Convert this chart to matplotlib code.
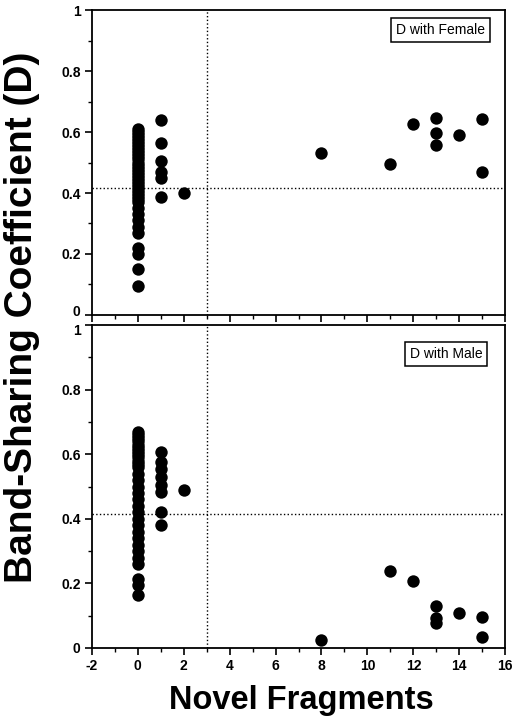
import matplotlib
matplotlib.use("Agg")
import matplotlib.pyplot as plt
from matplotlib.ticker import MultipleLocator
from matplotlib.transforms import ScaledTranslation

plt.rcParams['font.family'] = ['Liberation Sans', 'DejaVu Sans']
plt.rcParams['axes.unicode_minus'] = False

# Top panel: D with Female
fem_x = [0]*32 + [1, 1, 1, 1, 1, 1, 2, 8, 11, 12, 13, 13, 13, 14, 15, 15]
fem_y = [0.61, 0.60, 0.59, 0.58, 0.57, 0.56, 0.55, 0.54, 0.53, 0.52, 0.51, 0.50,
         0.49, 0.48, 0.47, 0.46, 0.45, 0.44, 0.43, 0.42, 0.41, 0.40, 0.39, 0.38,
         0.37, 0.35, 0.33, 0.31, 0.29, 0.27, 0.22, 0.20] + \
        [0.64, 0.565, 0.505, 0.47, 0.45, 0.387, 0.40, 0.532, 0.495, 0.625,
         0.645, 0.596, 0.557, 0.591, 0.643, 0.47]
fem_extra_x = [0, 0]
fem_extra_y = [0.15, 0.095]

# Bottom panel: D with Male
male_x = [0]*30 + [1, 1, 1, 1, 1, 1, 1, 1, 2, 8, 11, 12, 13, 13, 13, 14, 15, 15]
male_y = [0.67, 0.66, 0.65, 0.64, 0.63, 0.62, 0.61, 0.60, 0.59, 0.58, 0.57, 0.56,
          0.54, 0.52, 0.50, 0.48, 0.46, 0.44, 0.42, 0.40, 0.38, 0.36, 0.34, 0.32,
          0.30, 0.28, 0.26, 0.215, 0.195, 0.165] + \
         [0.608, 0.577, 0.555, 0.53, 0.505, 0.484, 0.422, 0.381, 0.49, 0.025,
          0.239, 0.208, 0.130, 0.092, 0.078, 0.109, 0.097, 0.033]

threshold_x = 3
threshold_y = 0.415

xticks = [-2, 0, 2, 4, 6, 8, 10, 12, 14, 16]
yticks = [0, 0.2, 0.4, 0.6, 0.8, 1]
ytick_labels = ['0', '0.2', '0.4', '0.6', '0.8', '1']

fig = plt.figure(figsize=(5.16, 7.24), dpi=100)
ax1 = fig.add_axes([0.178, 0.565, 0.801, 0.421])
ax2 = fig.add_axes([0.178, 0.105, 0.801, 0.446])

def style(ax, show_xlabels):
    ax.set_xlim(-2, 16)
    ax.set_ylim(0, 1)
    ax.set_xticks(xticks)
    ax.set_yticks(yticks)
    ax.set_yticklabels(ytick_labels)
    ax.xaxis.set_minor_locator(MultipleLocator(1))
    ax.yaxis.set_minor_locator(MultipleLocator(0.1))
    ax.tick_params(which='major', direction='out', length=5, width=1.2,
                   labelsize=10, top=False, right=False, pad=3)
    ax.tick_params(which='minor', direction='out', length=3, width=1,
                   top=False, right=False)
    for lab in ax.get_xticklabels() + ax.get_yticklabels():
        lab.set_fontweight('bold')
    if not show_xlabels:
        ax.set_xticklabels([])
    for sp in ax.spines.values():
        sp.set_linewidth(1.3)
    ax.axvline(threshold_x, color='black', linestyle=':', linewidth=1)
    ax.axhline(threshold_y, color='black', linestyle=':', linewidth=1)

style(ax1, False)
style(ax2, True)

# nudge the adjoining "0" (top panel) and "1" (bottom panel) labels apart
lab0 = ax1.yaxis.get_major_ticks()[0].label1
lab0.set_transform(lab0.get_transform() + ScaledTranslation(0, 3/72, fig.dpi_scale_trans))
lab1 = ax2.yaxis.get_major_ticks()[-1].label1
lab1.set_transform(lab1.get_transform() + ScaledTranslation(0, -3/72, fig.dpi_scale_trans))

ax1.scatter(fem_x + fem_extra_x, fem_y + fem_extra_y, s=80, color='black',
            zorder=3, linewidths=0)
ax2.scatter(male_x, male_y, s=80, color='black', zorder=3, linewidths=0)

box = dict(boxstyle='square,pad=0.35', facecolor='white', edgecolor='black', linewidth=1.1)
ax1.text(0.952, 0.934, 'D with Female', transform=ax1.transAxes, ha='right',
         va='center', fontsize=10, bbox=box, zorder=5)
ax2.text(0.945, 0.91, 'D with Male', transform=ax2.transAxes, ha='right',
         va='center', fontsize=10, bbox=box, zorder=5)

fig.text(0.043, 0.562, 'Band-Sharing Coefficient (D)', rotation=90, ha='center',
         va='center', fontsize=28, fontweight='bold')
fig.text(0.584, 0.033, 'Novel Fragments', ha='center', va='center',
         fontsize=23.5, fontweight='bold')

fig.savefig('out.png', dpi=100)
